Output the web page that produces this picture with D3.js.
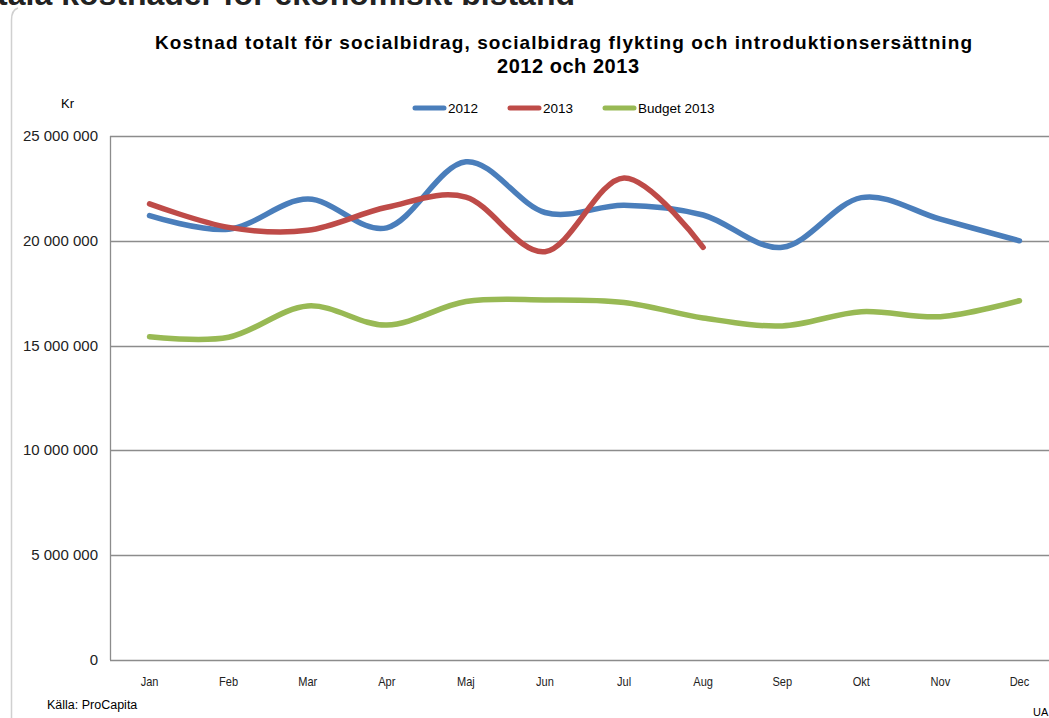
<!DOCTYPE html>
<html>
<head>
<meta charset="utf-8">
<script src="https://cdn.jsdelivr.net/npm/d3@7"></script>
<style>
body {
  margin: 0;
  padding: 0;
  background: #fff;
}
text {
  font-family: Arial, "Liberation Sans", sans-serif;
}
.grid line {
  stroke: #8c8c8c;
  stroke-width: 1.3px;
}
.narrow {
  font-family: "Liberation Sans Narrow", "Arial Narrow", Arial, sans-serif;
}
</style>
</head>
<body>
<svg></svg>

<script>
var months = ['Jan', 'Feb', 'Mar', 'Apr', 'Maj', 'Jun', 'Jul', 'Aug', 'Sep', 'Okt', 'Nov', 'Dec'];
var yTicks = [0, 5000000, 10000000, 15000000, 20000000, 25000000];

// Kr per month
var values2012 = [21200000, 20550000, 21990000, 20620000, 23770000, 21350000, 21700000, 21230000, 19690000, 22060000, 21030000, 20000000];
var values2013 = [21760000, 20640000, 20500000, 21600000, 22080000, 19480000, 23000000, 19690000];
var valuesBudget = [15420000, 15400000, 16890000, 15980000, 17100000, 17180000, 17060000, 16320000, 15940000, 16620000, 16380000, 17140000];

var seriesNames = ['2012', '2013', 'Budget 2013'];
var seriesColors = ['#4a7ebb', '#be4b48', '#98b954'];

var width = 1049,
  height = 718;

var svg = d3.select('svg')
  .attr('width', width)
  .attr('height', height);

var plot = { left: 110, right: 1059, top: 136, bottom: 660 };

var x = d3.scaleBand()
  .domain(months)
  .range([plot.left, plot.right]);

var y = d3.scaleLinear()
  .domain([0, 25000000])
  .range([plot.bottom, plot.top]);

// heading of the slide, cut off at the top like in the screenshot
svg.append('text')
  .attr('x', 575)
  .attr('y', 5)
  .attr('text-anchor', 'end')
  .style('font-size', '32px')
  .style('font-weight', 'bold')
  .attr('fill', '#222')
  .text('Totala kostnader för ekonomiskt bistånd');

// chart frame
svg.append('path')
  .attr('d', 'M11.5,718 L11.5,20 Q11.5,10 18,8')
  .attr('fill', 'none')
  .attr('stroke', '#d0d0d0')
  .attr('stroke-width', 1.5);

// title
svg.append('text')
  .attr('x', 155)
  .attr('y', 49)
  .attr('textLength', 817)
  .attr('lengthAdjust', 'spacing')
  .style('font-size', '19px')
  .style('font-weight', 'bold')
  .text('Kostnad totalt för socialbidrag, socialbidrag flykting och introduktionsersättning');

svg.append('text')
  .attr('x', 497)
  .attr('y', 73)
  .attr('textLength', 142)
  .attr('lengthAdjust', 'spacing')
  .style('font-size', '20px')
  .style('font-weight', 'bold')
  .text('2012 och 2013');

svg.append('text')
  .attr('class', 'narrow')
  .attr('x', 61)
  .attr('y', 108)
  .style('font-size', '13px')
  .text('Kr');

// legend
var legendX = [413, 508, 603];
var legend = svg.append('g')
  .selectAll('g')
  .data(seriesNames)
  .enter().append('g')
  .attr('transform', function(d, i) {
    return 'translate(' + legendX[i] + ',108)';
  });

legend.append('line')
  .attr('x1', 2)
  .attr('x2', 31)
  .attr('stroke', function(d, i) { return seriesColors[i]; })
  .attr('stroke-width', 5)
  .attr('stroke-linecap', 'round');

legend.append('text')
  .attr('class', 'narrow')
  .attr('x', 35)
  .attr('y', 5)
  .style('font-size', '13.5px')
  .text(function(d) { return d; });

// grid and y axis
var grid = svg.append('g').attr('class', 'grid');

grid.selectAll('line')
  .data(yTicks)
  .enter().append('line')
  .attr('x1', plot.left)
  .attr('x2', width)
  .attr('y1', function(d) { return Math.round(y(d)) + 0.5; })
  .attr('y2', function(d) { return Math.round(y(d)) + 0.5; });

svg.append('line')
  .attr('x1', plot.left + 0.5)
  .attr('x2', plot.left + 0.5)
  .attr('y1', plot.top)
  .attr('y2', plot.bottom)
  .attr('stroke', '#8c8c8c')
  .attr('stroke-width', 1.3);

var fmt = function(d) {
  return d3.format(',')(d).replace(/,/g, ' ');
};

svg.append('g')
  .selectAll('text')
  .data(yTicks)
  .enter().append('text')
  .attr('x', 98)
  .attr('y', function(d) { return y(d) + 5; })
  .attr('text-anchor', 'end')
  .style('font-size', '15px')
  .attr('fill', '#222')
  .text(fmt);

// month labels, squeezed a bit to look like the narrow office font
svg.append('g')
  .selectAll('text')
  .data(months)
  .enter().append('text')
  .attr('class', 'narrow')
  .attr('transform', function(d) {
    return 'translate(' + (x(d) + x.bandwidth() / 2) + ',686) scale(0.85,1)';
  })
  .attr('text-anchor', 'middle')
  .style('font-size', '13px')
  .attr('fill', '#222')
  .text(function(d) { return d; });

// lines
var line = d3.line()
  .x(function(d, i) { return x(months[i]) + x.bandwidth() / 2; })
  .y(function(d) { return y(d); })
  .curve(d3.curveCardinal.tension(0));

var allSeries = [values2012, values2013, valuesBudget];
var drawOrder = [2, 0, 1];

svg.append('g')
  .selectAll('path')
  .data(drawOrder)
  .enter().append('path')
  .attr('d', function(i) { return line(allSeries[i]); })
  .attr('fill', 'none')
  .attr('stroke', function(i) { return seriesColors[i]; })
  .attr('stroke-width', 5.5)
  .attr('stroke-linecap', 'round')
  .attr('stroke-linejoin', 'round');

// footer
svg.append('text')
  .attr('class', 'narrow')
  .attr('x', 47)
  .attr('y', 709)
  .style('font-size', '12.5px')
  .text('Källa: ProCapita');

svg.append('text')
  .attr('class', 'narrow')
  .attr('x', 1033)
  .attr('y', 716)
  .style('font-size', '11px')
  .text('UA');
</script>
</body>
</html>
